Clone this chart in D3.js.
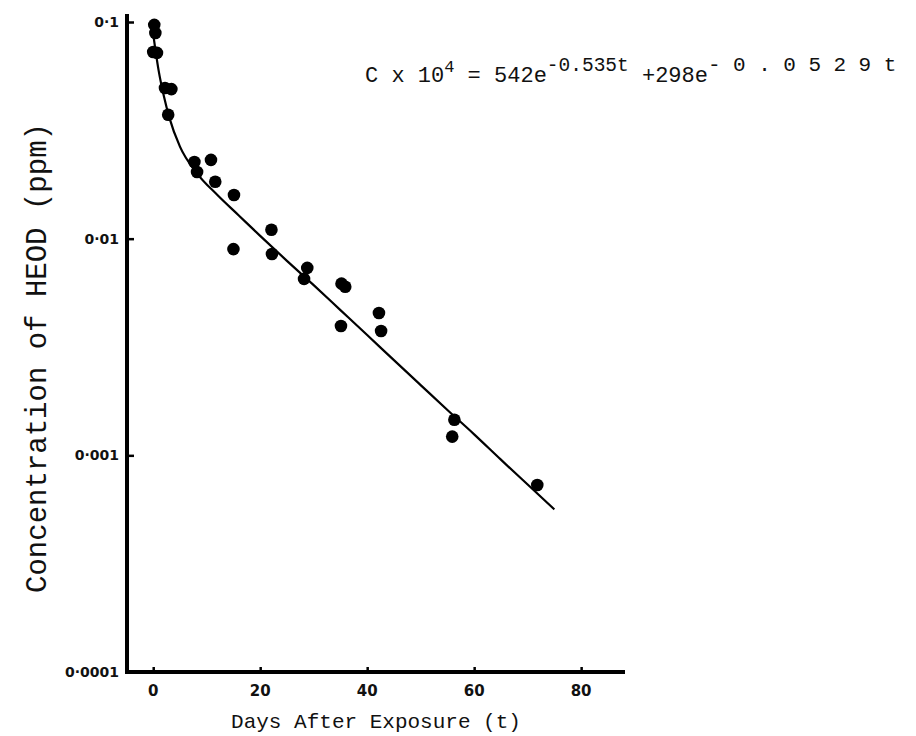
<!DOCTYPE html>
<html>
<head>
<meta charset="utf-8">
<script src="https://cdn.jsdelivr.net/npm/d3@7"></script>
<style>
  body { margin: 0; background: #fff; }
  svg { display: block; }
  .lbl { font-family: "Liberation Mono", "DejaVu Sans Mono", monospace; fill: #111; }
  .tick-lbl { font-family: "DejaVu Sans", sans-serif; font-weight: bold; fill: #111; }
</style>
</head>
<body>
<svg id="chart" width="916" height="736"></svg>
<script>
// measured points (days after exposure, concentration in ppm)
var days = [0.2, 0.4, 0.0, 0.7, 2.2, 3.4, 2.8, 7.7, 8.2, 10.8, 11.6, 15.1, 15.0,
            22.1, 22.2, 28.8, 28.2, 35.2, 35.9, 35.1, 42.2, 42.6, 56.3, 55.9, 71.8];
var conc = [0.097, 0.089, 0.0727, 0.072, 0.0496, 0.049, 0.0373, 0.0226, 0.0203, 0.0231,
            0.0183, 0.0159, 0.00895, 0.011, 0.0085, 0.00733, 0.00652, 0.0062, 0.0060,
            0.00395, 0.00454, 0.00375, 0.00146, 0.00122, 0.00073];

// fitted curve
var curveDays = [0, 1, 2, 3, 5, 8, 12, 16, 20, 25, 30, 35, 40, 45, 50, 55, 60, 65, 70, 75];
var curveConc = [0.088, 0.060, 0.0454, 0.0363, 0.0266, 0.0203, 0.0159, 0.0128, 0.0103,
                 0.0079, 0.0061, 0.00468, 0.00359, 0.00275, 0.00211, 0.00162, 0.00125,
                 0.000955, 0.000733, 0.000563];

var xTicks = [0, 20, 40, 60, 80];
var yTicks = [0.1, 0.01, 0.001, 0.0001];
var yTickLabels = ['0·1', '0·01', '0·001', '0·0001'];

var svg = d3.select('#chart');

var x = d3.scaleLinear().domain([-4.9, 88.2]).range([127, 625]);
var y = d3.scaleLog().domain([0.0001, 0.1]).range([672, 22]);

// axes lines (thick, like the printed figure)
svg.append('line')
  .attr('x1', x(-4.9)).attr('x2', x(-4.9))
  .attr('y1', 14).attr('y2', 674)
  .attr('stroke', '#000').attr('stroke-width', 4);

svg.append('line')
  .attr('x1', x(-4.9) - 2).attr('x2', x(88.2))
  .attr('y1', y(0.0001)).attr('y2', y(0.0001))
  .attr('stroke', '#000').attr('stroke-width', 4);

// y ticks
var yAxis = d3.axisRight(y).tickValues(yTicks).tickSize(7).tickFormat('');
svg.append('g')
  .attr('transform', 'translate(' + x(-4.9) + ',0)')
  .call(yAxis)
  .call(function(g) {
    g.select('.domain').remove();
    g.selectAll('.tick line').attr('stroke', '#000').attr('stroke-width', 2.5);
  });

svg.selectAll('.ylab')
  .data(yTicks)
  .enter().append('text')
  .attr('class', 'tick-lbl')
  .attr('x', x(-4.9) - 8)
  .attr('y', function(d) { return y(d); })
  .attr('dy', '0.35em')
  .attr('text-anchor', 'end')
  .attr('font-size', 14)
  .text(function(d, i) { return yTickLabels[i]; });

// x ticks
var xAxis = d3.axisTop(x).tickValues(xTicks).tickSize(5).tickFormat('');
svg.append('g')
  .attr('transform', 'translate(0,' + y(0.0001) + ')')
  .call(xAxis)
  .call(function(g) {
    g.select('.domain').remove();
    g.selectAll('.tick line').attr('stroke', '#000').attr('stroke-width', 2.5);
  });

svg.selectAll('.xlab')
  .data(xTicks)
  .enter().append('text')
  .attr('class', 'tick-lbl')
  .attr('x', function(d) { return x(d); })
  .attr('y', y(0.0001) + 24)
  .attr('text-anchor', 'middle')
  .attr('font-size', 15)
  .text(function(d) { return d; });

// fitted curve
var line = d3.line()
  .x(function(d) { return x(d[0]); })
  .y(function(d) { return y(d[1]); })
  .curve(d3.curveMonotoneX);

svg.append('path')
  .datum(d3.zip(curveDays, curveConc))
  .attr('d', line)
  .attr('fill', 'none')
  .attr('stroke', '#000')
  .attr('stroke-width', 2.2);

// data points
svg.selectAll('.pt')
  .data(d3.zip(days, conc))
  .enter().append('circle')
  .attr('cx', function(d) { return x(d[0]); })
  .attr('cy', function(d) { return y(d[1]); })
  .attr('r', 6.3)
  .attr('fill', '#000');

// axis titles
svg.append('text')
  .attr('class', 'lbl')
  .attr('x', 376).attr('y', 728)
  .attr('text-anchor', 'middle')
  .attr('font-size', 21)
  .text('Days After Exposure (t)');

svg.append('text')
  .attr('class', 'lbl')
  .attr('transform', 'translate(46,358) rotate(-90)')
  .attr('text-anchor', 'middle')
  .attr('font-size', 29)
  .text('Concentration of HEOD (ppm)');

// equation
var eq = svg.append('text')
  .attr('class', 'lbl')
  .attr('x', 365).attr('y', 82)
  .attr('font-size', 22);
eq.append('tspan').text('C x 10');
eq.append('tspan').attr('dy', -10).attr('font-size', 17).text('4');
eq.append('tspan').attr('dy', 10).text(' = 542e');
eq.append('tspan').attr('dy', -11).attr('font-size', 19.5).text('-0.535t');
eq.append('tspan').attr('dy', 11).text(' +298e');
eq.append('tspan').attr('dy', -11).attr('font-size', 21).attr('letter-spacing', 12.5).text('-0.0529t');
</script>
</body>
</html>
